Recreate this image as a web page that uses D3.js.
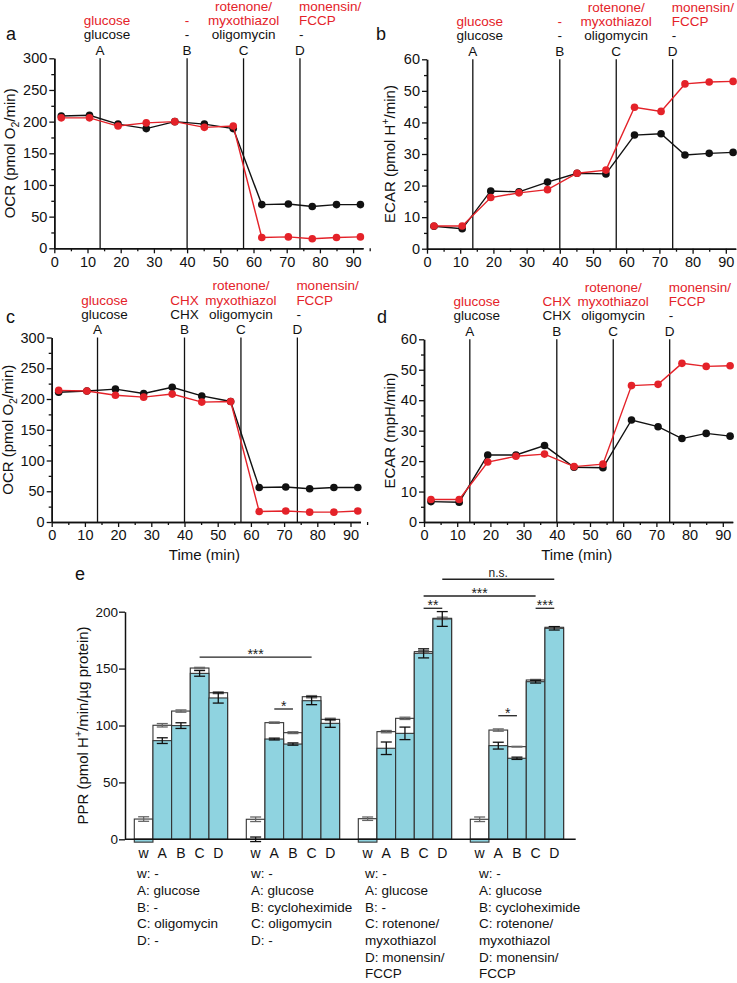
<!DOCTYPE html>
<html>
<head>
<meta charset="utf-8">
<script src="https://cdn.jsdelivr.net/npm/d3@7"></script>
<style>
  body { margin: 0; background: #fff; }
  svg { display: block; }
</style>
</head>
<body>
<svg id="fig" width="737" height="983"></svg>
<script>
const RED = '#e42229';
const CYAN = '#8fd3e0';
const INK = '#111';
const FONT = '"Liberation Sans", Arial, Helvetica, sans-serif';

// ---- time courses (a-d) ----
const timePoints = [2.1, 10.6, 19.2, 27.7, 36.3, 45.2, 53.9, 62.5, 70.5, 77.7, 85.0, 92.2];
const injections = [13.8, 40, 57, 74];
const injLetters = ['A', 'B', 'C', 'D'];
const xTicks = [0, 10, 20, 30, 40, 50, 60, 70, 80, 90];

const ocrA_black = [209, 210, 196, 189, 200, 196, 189, 69, 70, 66, 69, 69];
const ocrA_red   = [206, 206, 193, 198, 200, 191, 193, 17, 18, 15, 17, 18];
const ecarB_black = [7.1, 6.3, 18.3, 18.0, 21.1, 23.9, 23.7, 36.0, 36.4, 29.7, 30.2, 30.5];
const ecarB_red   = [7.2, 7.2, 16.2, 17.7, 18.7, 23.9, 24.9, 44.8, 43.5, 52.2, 52.8, 53.0];
const ocrC_black = [211, 213, 216, 209, 219, 205, 196, 56, 57, 54, 56, 56];
const ocrC_red   = [214, 213, 206, 203, 208, 195, 196, 17, 18, 16, 16, 18];
const ecarD_black = [6.7, 6.5, 22.0, 22.0, 25.1, 18.0, 17.8, 33.5, 31.3, 27.4, 29.1, 28.2];
const ecarD_red   = [7.4, 7.4, 19.7, 21.6, 22.3, 18.2, 19.0, 44.8, 45.2, 52.1, 51.1, 51.3];

// injection annotations (red = upper rows, black = row above letters)
const redLabels1 = [['glucose'], ['-'], ['rotenone/', 'myxothiazol'], ['monensin/', 'FCCP']];
const blackLabels1 = ['glucose', '-', 'oligomycin', '-'];
const redLabels2 = [['glucose'], ['CHX'], ['rotenone/', 'myxothiazol'], ['monensin/', 'FCCP']];
const blackLabels2 = ['glucose', 'CHX', 'oligomycin', '-'];

// ---- PPR bars (e) ----
const pprGroups = [0, 1, 2, 3];
const barKeys = ['w', 'A', 'B', 'C', 'D'];
const pprTotal    = [[17.8, 100.2, 112.7, 150.5, 128.8], [17.6, 102.5, 93.7, 125.3, 105.4],
                     [18.1, 94.6, 106.3, 164.9, 194.2], [17.6, 96.0, 81.4, 140.0, 186.3]];
const pprTotalErr = [[2, 1.5, 1, 0.6, 0.8], [2, 0.6, 0.8, 1, 1], [1.5, 1, 1, 1, 1], [2, 1, 0.3, 0.5, 0.6]];
const pprPart     = [[-2.5, 86.7, 99.9, 145.8, 124.2], [0, 88.1, 83.7, 121.8, 101.9],
                     [-2.5, 80.0, 93.1, 163.4, 193.6], [-2.5, 82.3, 71.2, 138.5, 185.4]];
const pprPartErr  = [[0, 2.5, 2.5, 2.5, 4.5], [2, 0.8, 1, 3.5, 3.5], [0, 5.5, 5.5, 4, 6.5], [0, 3, 1, 1.2, 1.5]];
const pprTicks = [0, 50, 100, 150, 200];
const conditionLists = [
  ['w: -', 'A: glucose', 'B: -', 'C: oligomycin', 'D: -'],
  ['w: -', 'A: glucose', 'B: cycloheximide', 'C: oligomycin', 'D: -'],
  ['w: -', 'A: glucose', 'B: -', 'C: rotenone/', 'myxothiazol', 'D: monensin/', 'FCCP'],
  ['w: -', 'A: glucose', 'B: cycloheximide', 'C: rotenone/', 'myxothiazol', 'D: monensin/', 'FCCP']
];
const sigBars = [
  { from: [0, 'C'], to: [1, 'C'], level: 160, label: '***' },
  { from: [1, 'A'], to: [1, 'B'], level: 114.5, label: '*' },
  { from: [2, 'C'], to: [2, 'D'], level: 203, label: '**' },
  { from: [3, 'C'], to: [3, 'D'], level: 203, label: '***' },
  { from: [3, 'A'], to: [3, 'B'], level: 108.6, label: '*' },
  { from: [2, 'D'], to: [3, 'D'], level: 228.5, label: 'n.s.' },
  { from: [2, 'C'], to: [3, 'C'], level: 213.8, label: '***' }
];

const svg = d3.select('#fig').attr('font-family', FONT);

function styleAxis(sel, fs) {
  sel.attr('font-family', FONT).attr('font-size', fs);
  sel.selectAll('path.domain').attr('stroke', INK).attr('stroke-width', 1.5);
  sel.selectAll('.tick line').attr('stroke', INK).attr('stroke-width', 1.3);
  sel.selectAll('.tick text').attr('fill', INK);
}

// text with sub/superscript parts
function richText(sel, parts, fs) {
  let shift = 0;
  parts.forEach(p => {
    const target = p.sub ? 4 : p.sup ? -6 : 0;
    const ts = sel.append('tspan').text(p.t).attr('dy', target - shift);
    if (p.sub || p.sup) ts.attr('font-size', fs * 0.7);
    shift = target;
  });
}

function timePanel(cfg) {
  const g = svg.append('g');
  const x = d3.scaleLinear().domain([0, 93]).range([cfg.x0, cfg.x0 + 93 * 3.32]);
  const y = d3.scaleLinear().domain([0, cfg.ymax]).range([cfg.yBot, cfg.yTop]);

  // axes
  g.append('g').attr('transform', `translate(0,${cfg.yBot})`)
    .call(d3.axisBottom(x).tickValues(xTicks.map(v => v + 5)).tickSize(3).tickSizeOuter(0).tickFormat(''))
    .call(s => styleAxis(s, 14.5));
  g.append('g').attr('transform', `translate(0,${cfg.yBot})`)
    .call(d3.axisBottom(x).tickValues(xTicks).tickSize(5).tickSizeOuter(0).tickPadding(3))
    .call(s => styleAxis(s, 14.5));
  const yMajor = d3.range(0, cfg.ymax + 0.01, cfg.major);
  g.append('g').attr('transform', `translate(${cfg.x0},0)`)
    .call(d3.axisLeft(y).tickValues(yMajor.slice(0, -1).map(v => v + cfg.major / 2)).tickSize(3).tickSizeOuter(0).tickFormat(''))
    .call(s => styleAxis(s, 14.5));
  g.append('g').attr('transform', `translate(${cfg.x0},0)`)
    .call(d3.axisLeft(y).tickValues(yMajor).tickSize(5).tickSizeOuter(0).tickPadding(2))
    .call(s => styleAxis(s, 14.5));

  // injection lines
  g.selectAll('line.inj').data(injections).join('line')
    .attr('x1', d => x(d)).attr('x2', d => x(d))
    .attr('y1', cfg.yTop).attr('y2', cfg.yBot)
    .attr('stroke', INK).attr('stroke-width', 1.3);

  const anchors = ['middle', 'middle', 'middle', 'start'];
  const dxs = [7, 0, 0, -1];
  injections.forEach((t, i) => {
    const cx = x(t) + dxs[i];
    g.append('text').attr('x', x(t)).attr('y', cfg.yTop - 3.5)
      .attr('text-anchor', 'middle').attr('font-size', 13.5).attr('fill', INK).text(injLetters[i]);
    g.append('text').attr('x', cx).attr('y', cfg.yTop - 19)
      .attr('text-anchor', anchors[i]).attr('font-size', 13.5).attr('fill', INK).text(cfg.blackLabels[i]);
    const red = cfg.redLabels[i];
    red.forEach((s, k) => {
      const row = red.length === 1 ? 1 : k;
      g.append('text').attr('x', cx).attr('y', cfg.yTop - 47.5 + row * 14.5)
        .attr('text-anchor', anchors[i]).attr('font-size', 13.5).attr('fill', RED).text(s);
    });
  });

  // series
  [[cfg.black, INK], [cfg.red, RED]].forEach(([vals, col]) => {
    const pts = timePoints.map((t, i) => [t, vals[i]]);
    g.append('path').datum(pts)
      .attr('d', d3.line().x(d => x(d[0])).y(d => y(d[1])))
      .attr('fill', 'none').attr('stroke', col).attr('stroke-width', 1.4);
    g.selectAll(null).data(pts).join('circle')
      .attr('cx', d => x(d[0])).attr('cy', d => y(d[1])).attr('r', 3.8).attr('fill', col);
  });

  // y title
  const yt = g.append('text')
    .attr('transform', `translate(${cfg.titleX},${(cfg.yTop + cfg.yBot) / 2}) rotate(-90)`)
    .attr('text-anchor', 'middle').attr('font-size', 15).attr('fill', INK);
  richText(yt, cfg.title, 15);

  if (cfg.xTitle) {
    g.append('text').attr('x', x(46)).attr('y', cfg.yBot + 38)
      .attr('text-anchor', 'middle').attr('font-size', 15).attr('fill', INK).text('Time (min)');
  }

  svg.append('text').attr('x', cfg.letterX).attr('y', cfg.letterY)
    .attr('font-size', 18).attr('fill', INK).text(cfg.id);
}

const ocrTitle = [{ t: 'OCR (pmol O' }, { t: '2', sub: true }, { t: '/min)' }];
const ecarTitle = [{ t: 'ECAR (pmol H' }, { t: '+', sup: true }, { t: '/min)' }];

timePanel({ id: 'a', x0: 54.3, yTop: 58.3, yBot: 248.3, ymax: 300, major: 50, black: ocrA_black, red: ocrA_red,
  redLabels: redLabels1, blackLabels: blackLabels1, title: ocrTitle, titleX: 15, letterX: 6, letterY: 40 });
timePanel({ id: 'b', x0: 427, yTop: 59.3, yBot: 248.7, ymax: 60, major: 10, black: ecarB_black, red: ecarB_red,
  redLabels: redLabels1, blackLabels: blackLabels1, title: ecarTitle, titleX: 395, letterX: 376, letterY: 40 });
timePanel({ id: 'c', x0: 51.7, yTop: 337.5, yBot: 522, ymax: 300, major: 50, black: ocrC_black, red: ocrC_red,
  redLabels: redLabels2, blackLabels: blackLabels2, title: ocrTitle, titleX: 13, letterX: 6, letterY: 323, xTitle: true });
timePanel({ id: 'd', x0: 424, yTop: 339.3, yBot: 522, ymax: 60, major: 10, black: ecarD_black, red: ecarD_red,
  redLabels: redLabels2, blackLabels: blackLabels2, title: [{ t: 'ECAR (mpH/min)' }], titleX: 395, letterX: 377, letterY: 323, xTitle: true });

// ---- panel e ----
(function () {
  const g = svg.append('g');
  const y = d3.scaleLinear().domain([0, 200]).range([839.3, 611.7]);
  const xg = d3.scaleBand().domain(pprGroups).range([134.3, 134.3 + 4 * 112]);
  const xb = d3.scaleBand().domain(barKeys).range([0, 93.3]);
  const bw = xb.bandwidth();
  const cx = (gi, k) => xg(gi) + xb(k) + bw / 2;

  const rows = [];
  pprGroups.forEach(gi => barKeys.forEach((k, j) => rows.push({
    gi, k, tot: pprTotal[gi][j], totE: pprTotalErr[gi][j], part: pprPart[gi][j], partE: pprPartErr[gi][j]
  })));

  g.selectAll('rect.tot').data(rows).join('rect')
    .attr('x', d => xg(d.gi) + xb(d.k)).attr('width', bw)
    .attr('y', d => y(d.tot)).attr('height', d => y(0) - y(d.tot))
    .attr('fill', '#fff').attr('stroke', '#333').attr('stroke-width', 1.1);
  g.selectAll('rect.part').data(rows).join('rect')
    .attr('x', d => xg(d.gi) + xb(d.k)).attr('width', bw)
    .attr('y', d => y(Math.max(d.part, 0))).attr('height', d => Math.abs(y(0) - y(d.part)))
    .attr('fill', CYAN).attr('stroke', '#333').attr('stroke-width', 1.1);

  function errBar(v, e, xc, col) {
    if (!e) return;
    const eg = g.append('g').attr('stroke', col).attr('stroke-width', 1.3);
    eg.append('line').attr('x1', xc).attr('x2', xc).attr('y1', y(v - e)).attr('y2', y(v + e));
    eg.append('line').attr('x1', xc - 5.5).attr('x2', xc + 5.5).attr('y1', y(v - e)).attr('y2', y(v - e));
    eg.append('line').attr('x1', xc - 5.5).attr('x2', xc + 5.5).attr('y1', y(v + e)).attr('y2', y(v + e));
  }
  rows.forEach(d => {
    errBar(d.tot, d.totE, cx(d.gi, d.k), '#666');
    errBar(d.part, d.partE, cx(d.gi, d.k), INK);
  });

  // axes
  g.append('g').attr('transform', 'translate(125,0)')
    .call(d3.axisLeft(y).tickValues(pprTicks).tickSize(6).tickSizeOuter(0).tickPadding(1))
    .call(s => styleAxis(s, 13.5));
  g.append('line').attr('x1', 125).attr('x2', 575.7).attr('y1', y(0)).attr('y2', y(0))
    .attr('stroke', INK).attr('stroke-width', 1.6);

  const yt = g.append('text').attr('transform', `translate(88,${(y(0) + y(200)) / 2}) rotate(-90)`)
    .attr('text-anchor', 'middle').attr('font-size', 15).attr('fill', INK);
  richText(yt, [{ t: 'PPR (pmol H' }, { t: '+', sup: true }, { t: '/min/\u00b5g protein)' }], 15);

  // category letters
  g.selectAll('text.cat').data(rows).join('text')
    .attr('x', d => cx(d.gi, d.k)).attr('y', 858)
    .attr('text-anchor', 'middle').attr('font-size', 14).attr('fill', INK).text(d => d.k);

  // condition lists
  conditionLists.forEach((list, gi) => {
    list.forEach((s, r) => {
      g.append('text').attr('x', 137 + gi * 114).attr('y', 878.3 + r * 16.65)
        .attr('font-size', 13.5).attr('fill', INK).text(s);
    });
  });

  // significance
  sigBars.forEach(s => {
    const x1 = cx(s.from[0], s.from[1]), x2 = cx(s.to[0], s.to[1]);
    const ly = y(s.level);
    g.append('line').attr('x1', x1).attr('x2', x2).attr('y1', ly).attr('y2', ly)
      .attr('stroke', '#222').attr('stroke-width', 1.3);
    const isNs = s.label === 'n.s.';
    g.append('text').attr('x', (x1 + x2) / 2).attr('y', isNs ? ly - 2 : ly + 2)
      .attr('text-anchor', 'middle').attr('font-size', isNs ? 12 : 14).attr('fill', '#222').text(s.label);
  });

  svg.append('text').attr('x', 75).attr('y', 580).attr('font-size', 18).attr('fill', INK).text('e');
})();
</script>
</body>
</html>
